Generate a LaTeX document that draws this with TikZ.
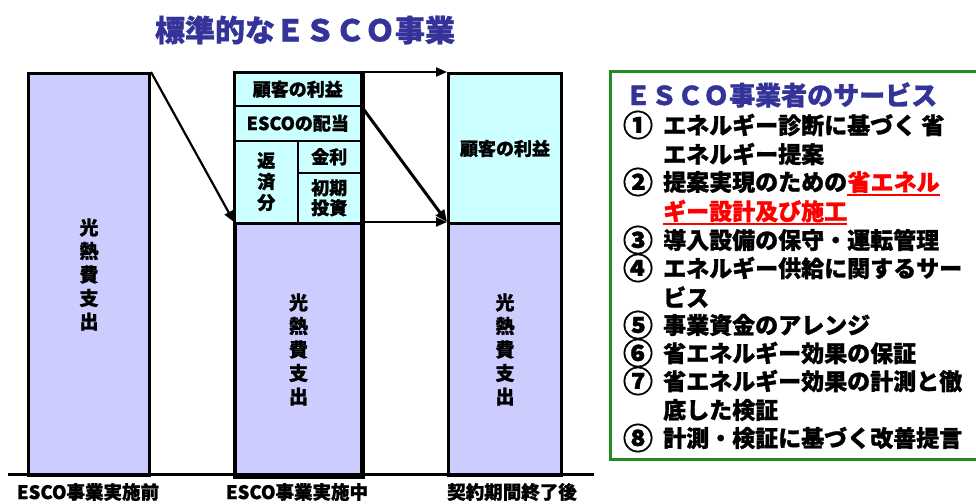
\documentclass[tikz,border=0pt]{standalone}
\usepackage{fontspec}
\setmainfont{Noto Sans CJK JP}[BoldFeatures={FakeBold=1.2}]
\usetikzlibrary{arrows.meta}
\definecolor{barblue}{RGB}{204,204,255}
\definecolor{barcyan}{RGB}{204,255,255}
\definecolor{titleblue}{RGB}{51,51,153}
\definecolor{boxgreen}{RGB}{34,139,34}
\begin{document}
\begin{tikzpicture}[x=1pt,y=-1pt,
  bar/.style={draw, line width=3pt, fill=barblue, inner sep=0pt, anchor=north west, align=center, font=\fontsize{19}{23.5}\selectfont\bfseries},
  cell/.style={draw, line width=1.5pt, fill=barcyan, inner sep=0pt, anchor=north west, align=center, font=\fontsize{18}{21}\selectfont\bfseries},
  caption/.style={font=\fontsize{18.5}{22}\selectfont\bfseries, inner sep=0pt},
  arr/.style={line width=2.2pt, -{Triangle[length=11pt,width=9pt]}},
  arrthick/.style={line width=3pt, -{Triangle[length=12pt,width=10pt]}},
  itemnum/.style={font=\fontsize{30}{32}\selectfont\bfseries, inner sep=0pt},
  itemtxt/.style={font=\fontsize{23}{26}\selectfont\bfseries, inner sep=0pt, anchor=west},
  redtxt/.style={itemtxt, text=red}]
\useasboundingbox (0,0) rectangle (976,503);

% title
\node[font=\fontsize{30}{34}\selectfont\bfseries, text=titleblue] (title) at (305,30) {標準的なＥＳＣＯ事業};

% left bar
\node[bar, minimum width=121pt, minimum height=402pt] (b1) at (27,72) {光\\熱\\費\\支\\出};

% middle stack
\node[cell, minimum width=126pt, minimum height=33pt] (c1) at (234,72) {顧客の利益};
\node[cell, minimum width=126pt, minimum height=35pt] (c2) at (234,105) {ESCOの配当};
\node[cell, minimum width=63pt, minimum height=82pt] (c3) at (234,140) {返\\済\\分};
\node[cell, minimum width=63pt, minimum height=32pt] (c4) at (297,140) {金利};
\node[cell, minimum width=63pt, minimum height=50pt, font=\fontsize{18}{20}\selectfont\bfseries] (c5) at (297,172) {初期\\投資};
\node[bar, minimum width=126pt, minimum height=252pt] (b2) at (234,222) {光\\熱\\費\\支\\出};
\draw[line width=3pt] (c1.north west) rectangle (b2.south east);

% right stack
\node[cell, minimum width=113pt, minimum height=150pt, line width=3pt] (r1) at (447,72) {顧客の利益};
\node[bar, minimum width=113pt, minimum height=252pt] (b3) at (447,222) {光\\熱\\費\\支\\出};

% baseline
\coordinate (bl) at (8,474);
\coordinate (br) at (594,474);
\draw[line width=3pt] (bl) -- (br);

% arrows
\draw[arr] (b1.north east) -- (b2.north west);
\draw[arr] (c1.north east) -- (r1.north west);
\draw[arrthick] (c1.south east) -- (b3.north west);
\draw[arr] (b2.north east) -- (b3.north west);

% captions
\node[caption] (cap1) at (88,492) {ESCO事業実施前};
\node[caption] (cap2) at (297,492) {ESCO事業実施中};
\node[caption] (cap3) at (512,492) {契約期間終了後};

% service box
\node[draw=boxgreen, line width=3pt, minimum width=380pt, minimum height=388pt, anchor=north west, inner sep=0pt] (svc) at (609,70) {};
\node[font=\fontsize{26}{30}\selectfont\bfseries, text=titleblue, inner sep=0pt, anchor=west] (svctitle) at (625,95) {ＥＳＣＯ事業者のサービス};

\node[itemnum] (n1) at (638,125) {①};
\node[itemtxt] (t1) at (663,125) {エネルギー診断に基づく 省};
\node[itemtxt] (t1b) at (663,154) {エネルギー提案};
\node[itemnum] (n2) at (638,182) {②};
\node[itemtxt] (t2) at (663,182) {提案実現のための};
\node[redtxt, anchor=west] (t2r) at (t2.east) {省エネル};
\node[redtxt] (t2b) at (663,211) {ギー設計及び施工};
\draw[red, line width=2pt] ([yshift=-2pt]t2r.south west) -- ([yshift=-2pt]t2r.south east);
\draw[red, line width=2pt] ([yshift=-2pt]t2b.south west) -- ([yshift=-2pt]t2b.south east);
\node[itemnum] (n3) at (638,240) {③};
\node[itemtxt] (t3) at (663,240) {導入設備の保守・運転管理};
\node[itemnum] (n4) at (638,268) {④};
\node[itemtxt] (t4) at (663,268) {エネルギー供給に関するサー};
\node[itemtxt] (t4b) at (663,297) {ビス};
\node[itemnum] (n5) at (638,325) {⑤};
\node[itemtxt] (t5) at (663,325) {事業資金のアレンジ};
\node[itemnum] (n6) at (638,353) {⑥};
\node[itemtxt] (t6) at (663,353) {省エネルギー効果の保証};
\node[itemnum] (n7) at (638,381) {⑦};
\node[itemtxt] (t7) at (663,381) {省エネルギー効果の計測と徹};
\node[itemtxt] (t7b) at (663,410) {底した検証};
\node[itemnum] (n8) at (638,438) {⑧};
\node[itemtxt] (t8) at (663,438) {計測・検証に基づく改善提言};
\end{tikzpicture}
\end{document}
